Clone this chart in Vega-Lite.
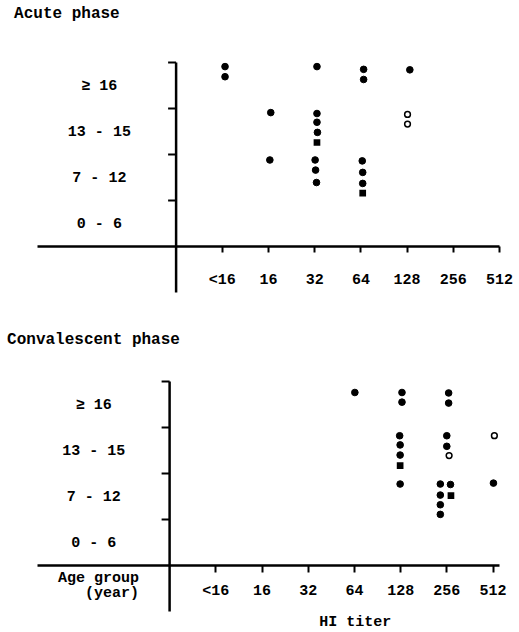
{
  "$schema": "https://vega.github.io/schema/vega-lite/v6.json",
  "padding": {"left": 7, "top": 5, "right": 5, "bottom": 0},
  "spacing": 39,
  "background": "white",
  "config": {
    "view": {"stroke": null},
    "axis": {"domainColor": "black", "tickColor": "black", "labelColor": "black", "grid": false, "labelFont": "Liberation Mono", "labelFontSize": 15, "labelFontWeight": "bold", "labelFlush": false, "labelOverlap": false, "domainWidth": 2.5, "tickWidth": 2, "labelAngle": 0}
  },
  "vconcat": [
    {
      "width": 462,
      "height": 230,
      "title": {"text": "Acute phase", "anchor": "start", "dx": -22.9, "offset": 27, "font": "Liberation Mono", "fontSize": 16, "fontWeight": "bold", "color": "black", "baseline": "alphabetic"},
      "layer": [
        {
          "data": {"values": [
            {"x": 1.07, "y": 3.90, "type": "filled"},
            {"x": 1.07, "y": 3.68, "type": "filled"},
            {"x": 2.06, "y": 2.90, "type": "filled"},
            {"x": 2.04, "y": 1.87, "type": "filled"},
            {"x": 3.06, "y": 3.90, "type": "filled"},
            {"x": 3.06, "y": 2.88, "type": "filled"},
            {"x": 3.06, "y": 2.69, "type": "filled"},
            {"x": 3.07, "y": 2.47, "type": "filled"},
            {"x": 3.06, "y": 2.25, "type": "square"},
            {"x": 3.02, "y": 1.87, "type": "filled"},
            {"x": 3.03, "y": 1.65, "type": "filled"},
            {"x": 3.05, "y": 1.38, "type": "filled"},
            {"x": 4.07, "y": 3.84, "type": "filled"},
            {"x": 4.07, "y": 3.62, "type": "filled"},
            {"x": 4.04, "y": 1.85, "type": "filled"},
            {"x": 4.05, "y": 1.60, "type": "filled"},
            {"x": 4.05, "y": 1.36, "type": "filled"},
            {"x": 4.05, "y": 1.15, "type": "square"},
            {"x": 5.07, "y": 3.83, "type": "filled"},
            {"x": 5.02, "y": 2.86, "type": "open"},
            {"x": 5.02, "y": 2.65, "type": "open"}
          ]},
          "mark": {"type": "point", "filled": true, "stroke": "black", "opacity": 1},
          "encoding": {
            "x": {"field": "x", "type": "quantitative", "scale": {"domain": [-3, 7], "nice": false, "zero": false},
                  "axis": {"values": [1, 2, 3, 4, 5, 6, 7], "labelExpr": "['','<16','16','32','64','128','256','512'][datum.value]", "offset": -46, "tickSize": 6, "labelPadding": 19, "title": null}},
            "y": {"field": "y", "type": "quantitative", "scale": {"domain": [-1, 4], "nice": false, "zero": false},
                  "axis": {"values": [1, 2, 3, 4], "labels": false, "offset": -138.6, "tickSize": 8, "title": null}},
            "fill": {"field": "type", "type": "nominal", "scale": {"domain": ["filled", "open", "square"], "range": ["black", "white", "black"]}, "legend": null},
            "shape": {"field": "type", "type": "nominal", "scale": {"domain": ["filled", "open", "square"], "range": ["circle", "circle", "square"]}, "legend": null},
            "size": {"field": "type", "type": "nominal", "scale": {"domain": ["filled", "open", "square"], "range": [44, 22, 38]}, "legend": null},
            "strokeWidth": {"field": "type", "type": "nominal", "scale": {"domain": ["filled", "open", "square"], "range": [1, 2, 1]}, "legend": null}
          }
        },
        {
          "data": {"values": [
            {"age": "≥ 16", "mid": 3.5},
            {"age": "13 - 15", "mid": 2.5},
            {"age": "7 - 12", "mid": 1.5},
            {"age": "0 - 6", "mid": 0.5}
          ]},
          "mark": {"type": "text", "font": "Liberation Mono", "fontSize": 15, "fontWeight": "bold", "align": "center", "baseline": "middle", "color": "black"},
          "encoding": {
            "x": {"datum": -1.65, "type": "quantitative"},
            "y": {"field": "mid", "type": "quantitative"},
            "text": {"field": "age"}
          }
        }
      ]
    },
    {
      "width": 462,
      "height": 230,
      "title": {"text": "Convalescent phase", "anchor": "start", "dx": -29.9, "offset": 20, "font": "Liberation Mono", "fontSize": 16, "fontWeight": "bold", "color": "black", "baseline": "alphabetic"},
      "layer": [
        {
          "data": {"values": [
            {"x": 4.02, "y": 3.75, "type": "filled"},
            {"x": 5.04, "y": 3.75, "type": "filled"},
            {"x": 5.04, "y": 3.54, "type": "filled"},
            {"x": 4.99, "y": 2.81, "type": "filled"},
            {"x": 5.00, "y": 2.61, "type": "filled"},
            {"x": 5.00, "y": 2.39, "type": "filled"},
            {"x": 5.00, "y": 2.16, "type": "square"},
            {"x": 5.00, "y": 1.76, "type": "filled"},
            {"x": 6.05, "y": 3.74, "type": "filled"},
            {"x": 6.05, "y": 3.52, "type": "filled"},
            {"x": 6.01, "y": 2.81, "type": "filled"},
            {"x": 6.01, "y": 2.58, "type": "filled"},
            {"x": 6.06, "y": 2.38, "type": "open"},
            {"x": 5.87, "y": 1.76, "type": "filled"},
            {"x": 5.87, "y": 1.52, "type": "filled"},
            {"x": 5.87, "y": 1.31, "type": "filled"},
            {"x": 5.87, "y": 1.10, "type": "filled"},
            {"x": 6.09, "y": 1.75, "type": "filled"},
            {"x": 6.10, "y": 1.51, "type": "square"},
            {"x": 7.04, "y": 2.81, "type": "open"},
            {"x": 7.02, "y": 1.78, "type": "filled"}
          ]},
          "mark": {"type": "point", "filled": true, "stroke": "black", "opacity": 1},
          "encoding": {
            "x": {"field": "x", "type": "quantitative", "scale": {"domain": [-2.86, 7.14], "nice": false, "zero": false},
                  "axis": {"values": [1, 2, 3, 4, 5, 6, 7], "labelExpr": "['','<16','16','32','64','128','256','512'][datum.value]", "offset": -46, "tickSize": 7, "labelPadding": 10, "title": null}},
            "y": {"field": "y", "type": "quantitative", "scale": {"domain": [-1, 4], "nice": false, "zero": false},
                  "axis": {"values": [1, 2, 3, 4], "labels": false, "offset": -132.1, "tickSize": 8, "title": null}},
            "fill": {"field": "type", "type": "nominal", "scale": {"domain": ["filled", "open", "square"], "range": ["black", "white", "black"]}, "legend": null},
            "shape": {"field": "type", "type": "nominal", "scale": {"domain": ["filled", "open", "square"], "range": ["circle", "circle", "square"]}, "legend": null},
            "size": {"field": "type", "type": "nominal", "scale": {"domain": ["filled", "open", "square"], "range": [48, 26, 40]}, "legend": null},
            "strokeWidth": {"field": "type", "type": "nominal", "scale": {"domain": ["filled", "open", "square"], "range": [1, 2.2, 1]}, "legend": null}
          }
        },
        {
          "data": {"values": [
            {"age": "≥ 16", "mid": 3.5},
            {"age": "13 - 15", "mid": 2.5},
            {"age": "7 - 12", "mid": 1.5},
            {"age": "0 - 6", "mid": 0.5}
          ]},
          "mark": {"type": "text", "font": "Liberation Mono", "fontSize": 15, "fontWeight": "bold", "align": "center", "baseline": "middle", "color": "black"},
          "encoding": {
            "x": {"datum": -1.63, "type": "quantitative"},
            "y": {"field": "mid", "type": "quantitative"},
            "text": {"field": "age"}
          }
        },
        {
          "data": {"values": [
            {"label": "Age group", "ly": -0.36},
            {"label": "(year)", "ly": -0.7}
          ]},
          "mark": {"type": "text", "font": "Liberation Mono", "fontSize": 15, "fontWeight": "bold", "align": "right", "baseline": "alphabetic", "color": "black"},
          "encoding": {
            "x": {"datum": -0.65, "type": "quantitative"},
            "y": {"field": "ly", "type": "quantitative"},
            "text": {"field": "label"}
          }
        },
        {
          "data": {"values": [
            {"label": "HI titer", "ly": -1.33}
          ]},
          "mark": {"type": "text", "font": "Liberation Mono", "fontSize": 15, "fontWeight": "bold", "align": "center", "baseline": "alphabetic", "color": "black"},
          "encoding": {
            "x": {"datum": 4.03, "type": "quantitative"},
            "y": {"field": "ly", "type": "quantitative"},
            "text": {"field": "label"}
          }
        }
      ]
    }
  ]
}
